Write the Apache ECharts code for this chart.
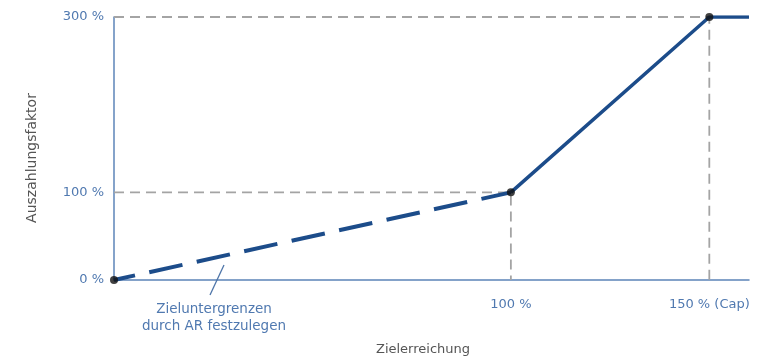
<!DOCTYPE html>
<html>
<head>
<meta charset="utf-8">
<script src="https://cdn.jsdelivr.net/npm/echarts@6/dist/echarts.min.js"></script>
<style>
  html, body { margin: 0; padding: 0; background: #ffffff; }
  #chart { width: 765px; height: 361px; }
</style>
</head>
<body>
<div id="chart"></div>
<script>
// Payout curve: Auszahlungsfaktor depending on Zielerreichung
const xTicks = [100, 150];
const xTickLabels = ['100 %', '150 % (Cap)'];
const yTicks = [0, 100, 300];
const yTickLabels = ['0 %', '100 %', '300 %'];
const xMax = 160;
const yMax = 300;

// Lower (to be defined) part, dashed
const lowerSegment = [[0, 0], [100, 100]];
// Linear part up to the cap and flat beyond
const upperSegment = [[100, 100], [150, 300], [160, 300]];
// Marked points of the curve
const keyPoints = [[0, 0], [100, 100], [150, 300]];

const xName = 'Zielerreichung';
const yName = 'Auszahlungsfaktor';
const annotationText = 'Zieluntergrenzen\ndurch AR festzulegen';

const FONT = '"DejaVu Sans", Verdana, sans-serif';
const TICK_COLOR = '#5079b0';
const AXIS_COLOR = '#5c84b8';
const NAME_COLOR = '#555555';
const LINE_COLOR = '#1c4c8a';
const GUIDE_COLOR = '#a4a4a4';

// Guide lines from each marked point (except origin) to both axes
const guideSeries = [];
keyPoints.slice(1).forEach(function (p) {
  guideSeries.push({
    type: 'line', silent: true, symbol: 'none', z: 1,
    data: [[0, p[1]], p, [p[0], 0]],
    lineStyle: { color: GUIDE_COLOR, width: 1.8, type: [10, 6] }
  });
});

const chart = echarts.init(document.getElementById('chart'));
chart.setOption({
  animation: false,
  grid: {
    left: 114, right: 16, top: 17, bottom: 81,
    containLabel: false, outerBoundsMode: 'none'
  },
  xAxis: {
    type: 'value', min: 0, max: xMax,
    axisLine: { show: true, lineStyle: { color: AXIS_COLOR, width: 1.5 } },
    axisTick: { show: false },
    splitLine: { show: false },
    axisLabel: {
      customValues: xTicks,
      formatter: function (v) { return xTickLabels[xTicks.indexOf(v)]; },
      color: TICK_COLOR, fontFamily: FONT, fontSize: 13, margin: 18
    }
  },
  yAxis: {
    type: 'value', min: 0, max: yMax,
    axisLine: { show: true, lineStyle: { color: AXIS_COLOR, width: 1.5 } },
    axisTick: { show: false },
    splitLine: { show: false },
    axisLabel: {
      customValues: yTicks,
      formatter: function (v) { return yTickLabels[yTicks.indexOf(v)]; },
      color: TICK_COLOR, fontFamily: FONT, fontSize: 13, margin: 10
    }
  },
  series: guideSeries.concat([
    {
      type: 'line', symbol: 'none', z: 3, data: lowerSegment,
      lineStyle: { color: LINE_COLOR, width: 4, type: [34, 14.6], dashOffset: 12.5, cap: 'butt' }
    },
    {
      type: 'line', symbol: 'none', z: 3, data: upperSegment,
      lineStyle: { color: LINE_COLOR, width: 3.5 }
    },
    {
      type: 'scatter', z: 5, data: keyPoints, symbolSize: 8,
      itemStyle: { color: '#111' }
    }
  ]),
  graphic: [
    // axis titles
    {
      type: 'text', z: 10, x: 423, y: 350,
      style: { text: xName, fill: NAME_COLOR, font: '13px ' + FONT, align: 'center', verticalAlign: 'middle' }
    },
    {
      type: 'text', z: 10, x: 32, y: 158, rotation: Math.PI / 2,
      style: { text: yName, fill: NAME_COLOR, font: '14px ' + FONT, align: 'center', verticalAlign: 'middle' }
    },
    // note on the lower part of the curve
    {
      type: 'line', z: 10,
      shape: { x1: 224, y1: 265, x2: 210, y2: 295 },
      style: { stroke: '#4d74a8', lineWidth: 1.3 }
    },
    {
      type: 'text', z: 10, x: 214, y: 301,
      style: {
        text: annotationText, fill: TICK_COLOR, font: '13.5px ' + FONT,
        align: 'center', lineHeight: 17
      }
    }
  ]
});
</script>
</body>
</html>
